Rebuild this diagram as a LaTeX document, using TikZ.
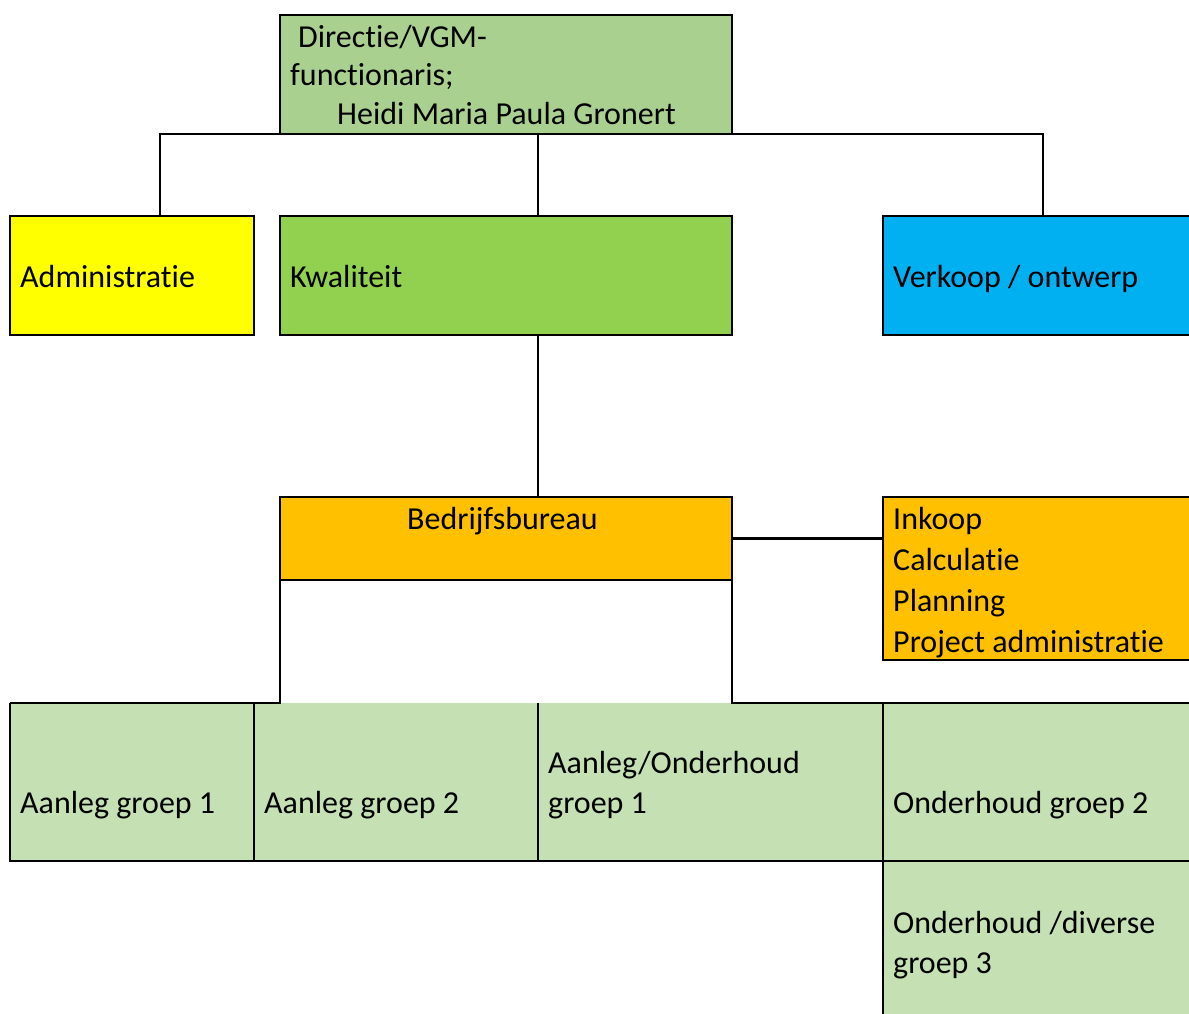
\documentclass[tikz,border=0pt]{standalone}
\usepackage{fontspec}
\setmainfont[RawFeature={-liga;-clig;-calt;-dlig;-rlig}]{Carlito}
\definecolor{topgreen}{HTML}{A9D08E}
\definecolor{kwgreen}{HTML}{92D050}
\definecolor{admyellow}{HTML}{FFFF00}
\definecolor{verkblue}{HTML}{00B0F0}
\definecolor{bborange}{HTML}{FFC000}
\definecolor{cellgreen}{HTML}{C5E0B3}
\begin{document}
\begin{tikzpicture}[x=1pt,y=-1pt,
  box/.style={rectangle,draw=black,line width=2.5pt,inner sep=0pt,outer sep=0pt,anchor=north west},
  cell/.style={rectangle,draw=none,fill=cellgreen,inner sep=0pt,outer sep=0pt,anchor=north west},
  lbl/.style={anchor=base west,inner sep=0pt,font=\fontsize{32}{40}\selectfont},
  conn/.style={draw=black,line width=2.5pt}]
\clip (0,0) rectangle (1189,1014);
\fill[white] (0,0) rectangle (1189,1014);
% boxes
\node[box,fill=topgreen,minimum width=452pt,minimum height=119pt] (top) at (280,15) {};
\node[box,fill=admyellow,minimum width=244pt,minimum height=119pt] (adm) at (10,216) {};
\node[box,fill=kwgreen,minimum width=452pt,minimum height=119pt] (kwal) at (280,216) {};
\node[box,fill=verkblue,minimum width=320pt,minimum height=119pt] (verk) at (883,216) {};
\node[box,fill=bborange,minimum width=452pt,minimum height=83pt] (bb) at (280,497) {};
\node[box,fill=bborange,minimum width=320pt,minimum height=163pt] (ink) at (883,497) {};
% bottom cells
\node[cell,minimum width=244pt,minimum height=158pt] (c1) at (10,703) {};
\node[cell,minimum width=284pt,minimum height=158pt] (c2) at (254,703) {};
\node[cell,minimum width=345pt,minimum height=158pt] (c3) at (538,703) {};
\node[cell,minimum width=320pt,minimum height=158pt] (c4) at (883,703) {};
\node[cell,minimum width=320pt,minimum height=170pt] (c5) at (883,861) {};
\draw[conn] (c1.north west) -- (c1.south west) -- (c4.south east);
\draw[conn] (c2.north west) -- (c2.south west);
\draw[conn] (c3.north west) -- (c3.south west);
\draw[conn] (c4.north west) -- (c5.south west);
% connectors
\coordinate (ja) at (160,134);
\coordinate (jk) at (538,134);
\coordinate (jv) at (1043,134);
\draw[conn] (adm.north -| ja) -- (ja) -- (jv) -- (verk.north -| jv);
\draw[conn] (jk) -- (kwal.north -| jk);
\draw[conn] (kwal.south -| jk) -- (bb.north -| jk);
\draw[conn] (bb.east) -- (ink.west |- bb.east);
\draw[conn] (bb.south west) -- (bb.south west |- c1.north) -- (c1.north west);
\draw[conn] (bb.south east) -- (bb.south east |- c4.north) -- (c4.north east);
% labels
\node[lbl] (t1) at (298,48) {Directie/VGM-};
\node[lbl] (t2) at (290,86) {functionaris;};
\node[lbl] (t3) at (337,125) {Heidi Maria Paula Gronert};
\node[lbl] (tadm) at (20,287) {Administratie};
\node[lbl] (tkw) at (290,287) {Kwaliteit};
\node[lbl] (tverk) at (893,287) {Verkoop / ontwerp};
\node[lbl] (tbb) at (407,529) {Bedrijfsbureau};
\node[lbl] (ti1) at (893,529) {Inkoop};
\node[lbl] (ti2) at (893,570) {Calculatie};
\node[lbl] (ti3) at (893,611) {Planning};
\node[lbl] (ti4) at (893,652) {Project administratie};
\node[lbl] (tc1) at (20,813) {Aanleg groep 1};
\node[lbl] (tc2) at (264,813) {Aanleg groep 2};
\node[lbl] (tc3a) at (548,773) {Aanleg/Onderhoud};
\node[lbl] (tc3b) at (548,813) {groep 1};
\node[lbl] (tc4) at (893,813) {Onderhoud groep 2};
\node[lbl] (tc5a) at (893,933) {Onderhoud /diverse};
\node[lbl] (tc5b) at (893,973) {groep 3};
\end{tikzpicture}
\end{document}
